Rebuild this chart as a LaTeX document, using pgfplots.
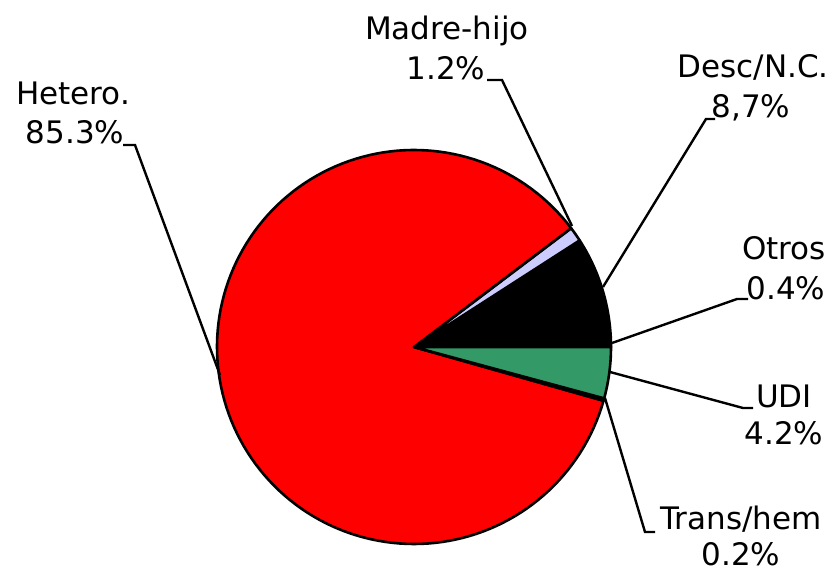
\documentclass[border=0pt]{standalone}
\usepackage{fontspec}
\setmainfont{DejaVu Sans}
\usepackage{pgfplots}
\pgfplotsset{compat=1.18}
\definecolor{hetero}{RGB}{255,0,0}
\definecolor{madre}{RGB}{204,204,255}
\definecolor{udi}{RGB}{51,153,102}

% shares in percent, counterclockwise from 3 o'clock
\def\pOtros{0.4}
\def\pDesc{8.7}
\def\pMadre{1.2}
\def\pHetero{85.3}
\def\pTrans{0.2}
\def\pUDI{4.2}
\pgfmathsetmacro\aA{0}
\pgfmathsetmacro\aB{\aA+3.6*\pOtros}
\pgfmathsetmacro\aC{\aB+3.6*\pDesc}
\pgfmathsetmacro\aD{\aC+3.6*\pMadre}
\pgfmathsetmacro\aE{\aD+3.6*\pHetero}
\pgfmathsetmacro\aF{\aE+3.6*\pTrans}
\pgfmathsetmacro\aG{\aF+3.6*\pUDI}
% centre and radius of the pie (picture units)
\def\cx{414}\def\cy{347}\def\pr{197}

\newcommand\slice[3]{%
  \addplot[fill=#1, draw=black, line width=1.3pt, line join=round,
    domain=#2:#3, samples=150, variable=\ang]
    ({\cx+\pr*cos(\ang)},{\cy-\pr*sin(\ang)}) -- (axis cs:\cx,\cy) -- cycle;}

\tikzset{
  lab/.style={anchor=base, inner sep=0pt, font=\fontsize{15.5}{18}\selectfont},
  lead/.style={black, line width=1.2pt, line join=miter},
}

\begin{document}
\begin{tikzpicture}
\begin{axis}[
  scale only axis, width=416pt, height=286pt,
  xmin=0, xmax=832, ymin=0, ymax=572, y dir=reverse,
  hide axis, clip=false]
\path (axis cs:0,0) rectangle (axis cs:832,572);
\slice{black}{\aA}{\aB}
\slice{black}{\aB}{\aC}
\slice{madre}{\aC}{\aD}
\slice{hetero}{\aD}{\aE}
\slice{black}{\aE}{\aF}
\slice{udi}{\aF}{\aG}

% leader lines
\addplot[lead] coordinates {(123,145) (135,145) (220,375)};
\addplot[lead] coordinates {(487,80) (502,80) (572,226)};
\addplot[lead] coordinates {(715,119) (706,119) (603,287)};
\addplot[lead] coordinates {(748,299) (737,299) (612,343)};
\addplot[lead] coordinates {(753,408) (743,408) (610,372)};
\addplot[lead] coordinates {(655,532) (645,532) (605,398)};

% labels
\node[lab] at (axis cs:447,40) {Madre-hijo};
\node[lab] at (axis cs:446,80) {1.2\%};
\node[lab] at (axis cs:753,78) {Desc/N.C.};
\node[lab] at (axis cs:751,118) {8,7\%};
\node[lab] at (axis cs:73,105) {Hetero.};
\node[lab] at (axis cs:75,144) {85.3\%};
\node[lab] at (axis cs:784,260) {Otros};
\node[lab] at (axis cs:786,300) {0.4\%};
\node[lab] at (axis cs:784,408) {UDI};
\node[lab] at (axis cs:784,445) {4.2\%};
\node[lab] at (axis cs:741,530) {Trans/hem};
\node[lab] at (axis cs:741,566) {0.2\%};
\end{axis}
\end{tikzpicture}
\end{document}
